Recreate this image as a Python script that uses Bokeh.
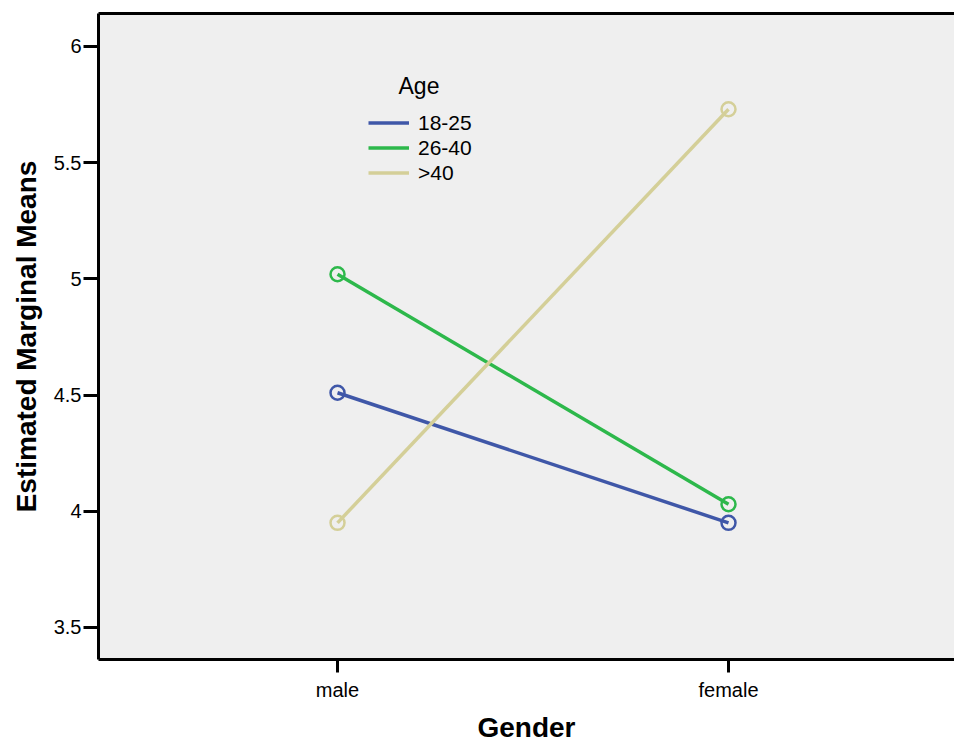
from bokeh.plotting import figure
from bokeh.models import Range1d, FixedTicker, LinearAxis, Legend, LegendItem, Label
from bokeh.embed import file_html
from bokeh.resources import INLINE

# ---- data ----
genders = ["male", "female"]
age_groups = ["18-25", "26-40", ">40"]
means_18_25 = [4.51, 3.95]
means_26_40 = [5.02, 4.03]
means_over_40 = [3.95, 5.73]
y_ticks = [3.5, 4, 4.5, 5, 5.5, 6]
colors = ["#3f57a8", "#2db84b", "#d4cf98"]

x_pos = list(range(len(genders)))
series = [means_18_25, means_26_40, means_over_40]

FONT = "Liberation Sans"

p = figure(frame_width=856, frame_height=646, output_backend="svg", toolbar_location=None,
           x_range=Range1d(-0.6113, 1.5780), y_range=Range1d(3.362, 6.142),
           min_border_left=98, min_border_top=13, min_border_bottom=0, min_border_right=0)
p.background_fill_color = "#efefef"
p.border_fill_color = "white"
p.outline_line_color = None
p.xgrid.visible = False
p.ygrid.visible = False

items = []
for name, vals, c in zip(age_groups, series, colors):
    r = p.line(x_pos, vals, line_color=c, line_width=3.5)
    p.scatter(x_pos, vals, marker="circle", size=14, fill_color=None, line_color=c, line_width=2.5)
    items.append(LegendItem(label=name, renderers=[r]))

legend = Legend(items=items, location=(270, 474), padding=0, spacing=0, margin=0,
                glyph_width=41, glyph_height=25, label_height=25, label_standoff=9,
                background_fill_alpha=0, border_line_color=None,
                label_text_font=FONT, label_text_font_size="21px", label_text_color="black")
p.add_layout(legend, "center")

p.add_layout(Label(x=300, y=574, x_units="screen", y_units="screen", text="Age",
                   text_font=FONT, text_font_size="23px", text_color="black",
                   text_baseline="middle"))

# axes
xa = p.xaxis[0]
xa.ticker = FixedTicker(ticks=x_pos)
xa.major_label_overrides = {i: g for i, g in enumerate(genders)}
ya = p.yaxis[0]
ya.ticker = FixedTicker(ticks=y_ticks)
ya.major_label_overrides = {3.5: "3.5", 4: "4", 4.5: "4.5", 5: "5", 5.5: "5.5", 6: "6"}

for ax in (xa, ya):
    ax.axis_line_width = 3
    ax.axis_line_color = "black"
    ax.major_tick_line_width = 3
    ax.major_tick_line_color = "black"
    ax.major_tick_in = 0
    ax.major_tick_out = 13
    ax.minor_tick_line_color = None
    ax.major_label_text_font = FONT
    ax.major_label_text_font_size = "20px"
    ax.major_label_text_color = "black"
    ax.axis_label_text_font = FONT
    ax.axis_label_text_font_style = "bold"
    ax.axis_label_text_color = "black"

ya.major_tick_out = 15
ya.major_label_standoff = 2
ya.axis_label = "Estimated Marginal Means"
ya.axis_label_text_font_size = "28px"
ya.axis_label_standoff = 9

xa.major_label_standoff = 6
xa.axis_label = "Gender"
xa.axis_label_text_font_size = "28px"
xa.axis_label_standoff = 8

top = LinearAxis(ticker=FixedTicker(ticks=[]), axis_line_width=3, axis_line_color="black",
                 major_tick_out=0, major_tick_in=0, minor_tick_out=0, minor_tick_in=0,
                 major_label_standoff=0, major_label_text_font_size="0px")
p.add_layout(top, "above")

open("out.html", "w").write(file_html(p, INLINE))
